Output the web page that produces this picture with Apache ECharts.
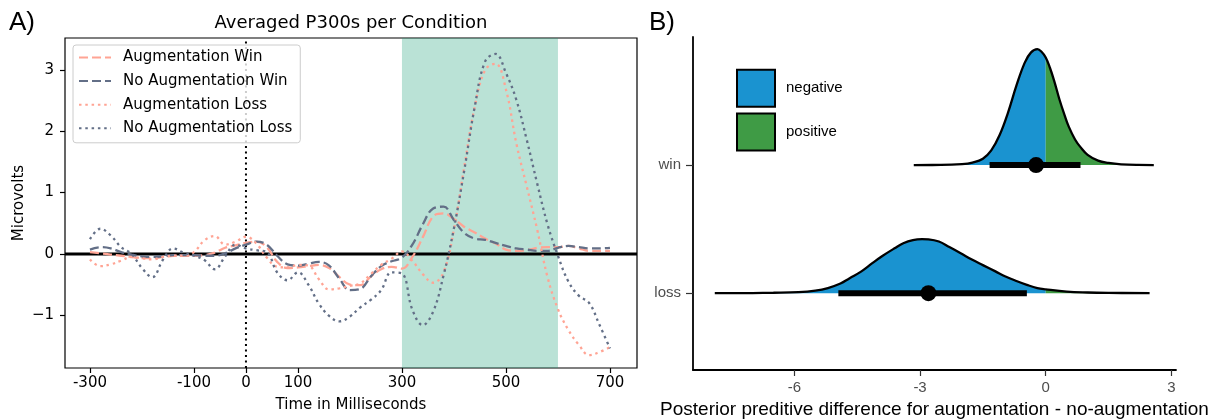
<!DOCTYPE html>
<html><head><meta charset="utf-8">
<script src="https://cdn.jsdelivr.net/npm/echarts@6/dist/echarts.min.js"></script>
<style>html,body{margin:0;padding:0;background:#fff}#c{width:1218px;height:420px}</style>
</head><body><div id="c"></div>
<script>
// ---------- Panel A data ----------
const timeMs = [-300,-280,-260,-240,-220,-200,-180,-160,-140,-120,-100,-80,-60,-40,-20,0,20,40,60,80,100,120,140,160,180,200,220,240,260,280,300,320,340,360,380,400,420,440,460,480,500,520,540,560,580,600,620,640,660,680,700];
const augWin = [0.03,0.01,-0.01,-0.03,-0.05,-0.07,-0.07,-0.05,-0.03,-0.03,-0.03,-0.02,0.02,0.10,0.14,0.18,0.20,0.11,-0.13,-0.23,-0.22,-0.20,-0.18,-0.23,-0.38,-0.50,-0.51,-0.37,-0.25,-0.21,-0.24,-0.05,0.27,0.61,0.66,0.57,0.44,0.35,0.25,0.17,0.07,0.05,0.06,0.10,0.11,0.11,0.13,0.09,0.05,0.05,0.05];
const noAugWin = [0.07,0.11,0.09,0.03,-0.01,-0.04,-0.05,-0.04,-0.02,-0.02,-0.02,-0.03,-0.03,0.01,0.09,0.15,0.20,0.15,-0.03,-0.17,-0.19,-0.16,-0.13,-0.19,-0.41,-0.59,-0.57,-0.37,-0.20,-0.12,-0.06,0.15,0.48,0.74,0.77,0.55,0.34,0.25,0.23,0.18,0.13,0.09,0.07,0.05,0.05,0.10,0.13,0.11,0.09,0.09,0.10];
const augLoss = [-0.09,-0.20,-0.17,-0.11,-0.05,-0.07,-0.09,-0.05,-0.03,-0.03,0.03,0.22,0.29,0.15,0.20,0.28,0.17,-0.06,-0.21,-0.22,-0.18,-0.19,-0.41,-0.58,-0.56,-0.52,-0.48,-0.33,-0.18,-0.08,0.04,-0.11,-0.33,-0.47,-0.30,0.40,1.43,2.40,3.00,3.10,2.68,1.80,1.10,0.40,-0.38,-0.90,-1.24,-1.48,-1.65,-1.60,-1.52];
const noAugLoss = [0.24,0.41,0.30,0.11,0.00,-0.23,-0.38,-0.10,0.09,0.02,-0.03,-0.10,-0.25,-0.04,0.15,0.09,0.06,0.03,-0.30,-0.43,-0.30,-0.50,-0.81,-1.01,-1.10,-1.02,-0.87,-0.75,-0.59,-0.30,-0.32,-0.91,-1.16,-0.94,-0.35,0.42,1.37,2.40,3.14,3.26,2.95,2.51,1.86,1.15,0.48,-0.03,-0.45,-0.68,-0.80,-1.16,-1.54];
const seriesNamesA = ['Augmentation Win','No Augmentation Win','Augmentation Loss','No Augmentation Loss'];
const xTicksA = [-300,-100,0,100,300,500,700];
const yTicksA = [-1,0,1,2,3];
const windowMs = [300,600];

// ---------- Panel B data ----------
const rowNames = ['loss','win']; // plotted at 1 and 2
const winX = [-3.15,-2.5,-2.0,-1.75,-1.5,-1.3,-1.1,-0.9,-0.7,-0.5,-0.35,-0.2,-0.1,0,0.1,0.2,0.33,0.45,0.55,0.7,0.83,1.0,1.25,1.5,1.8,2.2,2.58];
const winH = [0,0.001,0.008,0.02,0.05,0.115,0.235,0.41,0.62,0.80,0.88,0.905,0.885,0.84,0.76,0.66,0.51,0.39,0.30,0.20,0.14,0.08,0.035,0.017,0.006,0.001,0];
const lossX = [-7.9,-7.0,-6.5,-5.9,-5.5,-5.2,-4.9,-4.68,-4.4,-4.14,-3.9,-3.61,-3.4,-3.17,-2.95,-2.8,-2.55,-2.3,-2.03,-1.75,-1.5,-1.2,-0.96,-0.7,-0.45,-0.2,0,0.5,1.0,1.5,2.48];
const lossH = [0,0.001,0.003,0.008,0.02,0.04,0.075,0.117,0.17,0.234,0.29,0.35,0.39,0.415,0.422,0.42,0.403,0.36,0.312,0.26,0.219,0.17,0.13,0.095,0.065,0.04,0.03,0.012,0.005,0.002,0];
const winPoint = -0.23, winInterval = [-1.34, 0.83];
const lossPoint = -2.8, lossInterval = [-4.95, -0.45];
const xTicksB = [-6,-3,0,3];
const signNames = ['negative','positive'];

// ---------- styles ----------
const SALMON = '#ffa494', SLATE = '#636f87';
const BLUE = '#1a93d0', GREEN = '#3f9b45';
const DV = 'DejaVu Sans', LS = 'Liberation Sans';

const pairs = (xs, ys) => xs.map((x, i) => [x, ys[i]]);
const lineStyleA = [
  {color: SALMON, type: [9, 4]},
  {color: SLATE, type: [9, 4]},
  {color: SALMON, type: [2.5, 3.8]},
  {color: SLATE, type: [2.5, 3.8]}
];
const valsA = [augWin, noAugWin, augLoss, noAugLoss];

const series = [];
series.push({type:'line', xAxisIndex:0, yAxisIndex:0, data:[[-348,0],[752,0]], symbol:'none', silent:true, z:1,
  lineStyle:{color:'#000', width:3}});
series.push({type:'line', xAxisIndex:0, yAxisIndex:0, data:[[windowMs[0],0]], symbol:'none', silent:true, z:2,
  lineStyle:{opacity:0},
  markArea:{silent:true, itemStyle:{color:'rgba(27,158,119,0.3)'}, data:[[{xAxis:windowMs[0]},{xAxis:windowMs[1]}]]}});
series.push({type:'line', xAxisIndex:0, yAxisIndex:0, data:[[0,-1.86],[0,3.52]], symbol:'none', silent:true, z:2,
  lineStyle:{color:'#000', width:2, type:[2,3.5]}});
seriesNamesA.forEach((n, k) => {
  series.push({name:n, type:'line', xAxisIndex:0, yAxisIndex:0, data:pairs(timeMs, valsA[k]),
    symbol:'none', smooth:0.4, z:3, itemStyle:{color:lineStyleA[k].color},
    lineStyle:{color:lineStyleA[k].color, width:2.3, type:lineStyleA[k].type, cap:'butt'}});
});

function addSlab(xs, hs, yIdx) {
  const neg = [], pos = [];
  xs.forEach((x, i) => { if (x <= 0) neg.push([x, hs[i]]); if (x >= 0) pos.push([x, hs[i]]); });
  [[neg, signNames[0], BLUE], [pos, signNames[1], GREEN]].forEach(([d, n, c]) => {
    series.push({name:n, type:'line', xAxisIndex:1, yAxisIndex:yIdx, data:d, symbol:'none', smooth:0.4,
      z:2, silent:true, itemStyle:{color:c}, lineStyle:{opacity:0, width:0}, areaStyle:{color:c, opacity:1}});
  });
  series.push({type:'line', xAxisIndex:1, yAxisIndex:yIdx, data:pairs(xs, hs), symbol:'none', smooth:0.4,
    z:3, silent:true, lineStyle:{color:'#000', width:2.3}});
}
addSlab(winX, winH, 2);
addSlab(lossX, lossH, 3);
[[winInterval, winPoint, 2], [lossInterval, lossPoint, 1]].forEach(([iv, pt, row]) => {
  series.push({type:'line', xAxisIndex:1, yAxisIndex:1, data:[[iv[0], row],[iv[1], row]], symbol:'none', z:4,
    silent:true, lineStyle:{color:'#000', width:6, cap:'butt'}});
  series.push({type:'scatter', xAxisIndex:1, yAxisIndex:1, data:[[pt, row]], symbol:'circle', symbolSize:16, z:5,
    silent:true, itemStyle:{color:'#000', opacity:1}});
});

const yMinB = 0.4, yMaxB = 3.0;

const option = {
  animation:false,
  textStyle:{fontFamily:DV},
  grid:[
    {left:65, top:38, width:572, height:330, show:true, borderColor:'#000', borderWidth:1.2, containLabel:false, outerBoundsMode:'none'},
    {left:693, top:37, width:483, height:333, containLabel:false, outerBoundsMode:'none'}
  ],
  xAxis:[
    {gridIndex:0, type:'value', min:-348, max:752,
      axisLine:{show:false, onZero:false}, splitLine:{show:false},
      axisTick:{show:true, inside:false, length:5, customValues:xTicksA, lineStyle:{color:'#000', width:1.2}},
      axisLabel:{customValues:xTicksA, formatter:v=>String(v), fontFamily:DV, fontSize:15, color:'#000', margin:8},
      name:'Time in Milliseconds', nameLocation:'middle', nameGap:30,
      nameTextStyle:{fontFamily:DV, fontSize:15, color:'#000'}},
    {gridIndex:1, type:'value', min:-8.42, max:3.11,
      axisLine:{show:true, onZero:false, lineStyle:{color:'#000', width:1.8}}, splitLine:{show:false},
      axisTick:{show:true, length:6, customValues:xTicksB, lineStyle:{color:'#333', width:1.2}},
      axisLabel:{customValues:xTicksB, formatter:v=>String(v), fontFamily:LS, fontSize:15, color:'#4d4d4d', margin:10},
      name:'Posterior preditive difference for augmentation - no-augmentation', nameLocation:'middle', nameGap:27,
      nameTextStyle:{fontFamily:LS, fontSize:19, color:'#000'}}
  ],
  yAxis:[
    {gridIndex:0, type:'value', min:-1.86, max:3.52,
      axisLine:{show:false, onZero:false}, splitLine:{show:false},
      axisTick:{show:true, inside:false, length:5, customValues:yTicksA, lineStyle:{color:'#000', width:1.2}},
      axisLabel:{customValues:yTicksA, formatter:v=>v<0?'\u2212'+Math.abs(v):String(v), fontFamily:DV, fontSize:15, color:'#000', margin:11},
      name:'Microvolts', nameLocation:'middle', nameGap:38, nameRotate:90,
      nameTextStyle:{fontFamily:DV, fontSize:15, color:'#000'}},
    {gridIndex:1, type:'value', min:yMinB, max:yMaxB,
      axisLine:{show:true, onZero:false, lineStyle:{color:'#000', width:1.8}}, splitLine:{show:false},
      axisTick:{show:true, length:7, customValues:[1,2], lineStyle:{color:'#333', width:1.2}},
      axisLabel:{customValues:[1,2], formatter:v=>rowNames[Math.round(v)-1], fontFamily:LS, fontSize:15, color:'#4d4d4d', margin:12}},
    {gridIndex:1, type:'value', min:yMinB-2, max:yMaxB-2, show:false, axisLine:{onZero:false}},
    {gridIndex:1, type:'value', min:yMinB-1, max:yMaxB-1, show:false, axisLine:{onZero:false}}
  ],
  legend:[
    {data:seriesNamesA, orient:'vertical', left:73, top:45, itemWidth:32, itemHeight:14, itemGap:8.6,
      padding:[5,8,7,5], borderColor:'#cccccc', borderWidth:1, borderRadius:3, backgroundColor:'rgba(255,255,255,0.8)',
      itemStyle:{color:'rgba(0,0,0,0)', borderWidth:0, opacity:0},
      textStyle:{fontFamily:DV, fontSize:15, color:'#000', padding:[0,0,0,7]}, selectedMode:false},
    {data:signNames.map(n=>({name:n, icon:'rect'})), orient:'vertical', left:731, top:63.7, itemWidth:38, itemHeight:37, itemGap:4.7,
      itemStyle:{borderColor:'#000', borderWidth:2},
      textStyle:{fontFamily:LS, fontSize:15, color:'#000', padding:[0,0,0,6]}, selectedMode:false}
  ],
  graphic:[
    {type:'text', x:9, y:23, style:{text:'A)', font:'26px "Liberation Sans"', fill:'#000', textAlign:'left', textVerticalAlign:'middle', align:'left', verticalAlign:'middle'}},
    {type:'text', x:649, y:23, style:{text:'B)', font:'26px "Liberation Sans"', fill:'#000', textAlign:'left', textVerticalAlign:'middle', align:'left', verticalAlign:'middle'}},
    {type:'text', x:351, y:23, style:{text:'Averaged P300s per Condition', font:'18px "DejaVu Sans"', fill:'#000', textAlign:'center', textVerticalAlign:'middle', align:'center', verticalAlign:'middle'}}
  ],
  series:series
};
const chart = echarts.init(document.getElementById('c'), null, {renderer:'canvas'});
chart.setOption(option);
</script></body></html>
